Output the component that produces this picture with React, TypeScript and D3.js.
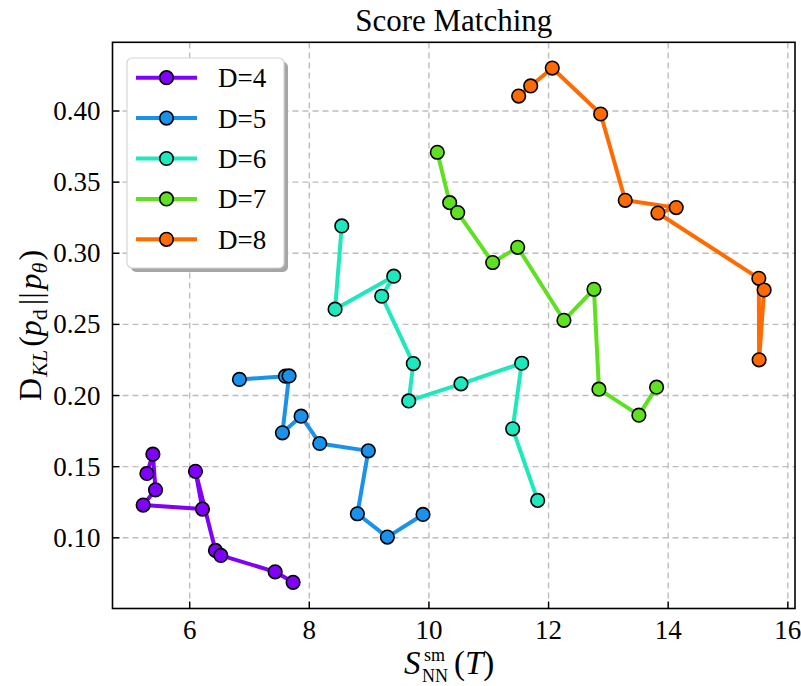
import React from 'react';
import * as d3 from 'd3';

// values
const seriesNames = ['D=4', 'D=5', 'D=6', 'D=7', 'D=8'];
const seriesColors = ['#8000fa', '#1a92ec', '#1ee8bd', '#5fe020', '#ff6b00'];

const d4x = [5.285, 5.385, 5.429, 5.223, 6.214, 6.097, 6.431, 6.521, 7.429, 7.729];
const d4y = [0.1452, 0.1588, 0.1337, 0.123, 0.1202, 0.1467, 0.0911, 0.0876, 0.0761, 0.0687];
const d5x = [6.832, 7.601, 7.662, 7.551, 7.863, 8.175, 8.987, 8.804, 9.305, 9.901];
const d5y = [0.2113, 0.2136, 0.2138, 0.1738, 0.1855, 0.1663, 0.1611, 0.1169, 0.1005, 0.1164];
const d6x = [8.543, 8.431, 9.412, 9.211, 9.739, 9.662, 10.536, 11.551, 11.4, 11.818];
const d6y = [0.3192, 0.2607, 0.2839, 0.2698, 0.2225, 0.1962, 0.2082, 0.2227, 0.1766, 0.1263];
const d7x = [10.14, 10.347, 10.481, 11.066, 11.484, 12.257, 12.759, 12.842, 13.51, 13.806];
const d7y = [0.371, 0.3356, 0.3286, 0.2935, 0.3042, 0.2529, 0.2747, 0.2045, 0.1862, 0.2059];
const d8x = [11.5, 11.701, 12.062, 12.871, 13.282, 14.134, 13.828, 15.515, 15.52, 15.604];
const d8y = [0.4105, 0.4176, 0.4302, 0.3979, 0.3372, 0.3321, 0.3283, 0.2824, 0.2251, 0.2742];

const xTicks = [6, 8, 10, 12, 14, 16];
const yTicks = [0.1, 0.15, 0.2, 0.25, 0.3, 0.35, 0.4];

const allX = [d4x, d5x, d6x, d7x, d8x];
const allY = [d4y, d5y, d6y, d7y, d8y];

const W = 801;
const H = 686;
const margin = { left: 112.5, right: 6, top: 42.3, bottom: 77.5 };
const font = '"Liberation Serif", "DejaVu Serif", serif';

export default function App() {
  const x = d3.scaleLinear().domain([4.71, 16.12]).range([margin.left, W - margin.right]);
  const y = d3.scaleLinear().domain([0.0503, 0.4483]).range([H - margin.bottom, margin.top]);
  const x0 = x.range()[0], x1 = x.range()[1];
  const y0 = y.range()[0], y1 = y.range()[1];

  const line = d3.line<[number, number]>()
    .x(d => x(d[0]))
    .y(d => y(d[1]));

  const series = seriesNames.map((name, i) => ({
    name,
    color: seriesColors[i],
    pts: allX[i].map((v, j) => [v, allY[i][j]] as [number, number]),
  }));

  const legX = 127, legY = 58, legW = 157, legH = 210;
  const cx = (x0 + x1) / 2;

  return (
    <svg width={W} height={H} style={{ position: 'absolute', left: 0, top: 0, background: '#fff' }}
      fontFamily={font}>
      <text x={cx} y={31} textAnchor="middle" fontSize={31}>Score Matching</text>

      {/* grid */}
      <g stroke="#bdbdbd" strokeWidth={1.4} strokeDasharray="6,4">
        {xTicks.map(t => <line key={'gx' + t} x1={x(t)} x2={x(t)} y1={y0} y2={y1} />)}
        {yTicks.map(t => <line key={'gy' + t} x1={x0} x2={x1} y1={y(t)} y2={y(t)} />)}
      </g>

      {/* series */}
      {series.map(s => (
        <g key={s.name}>
          <path d={line(s.pts) || ''} fill="none" stroke={s.color} strokeWidth={4} strokeLinejoin="round" />
          {s.pts.map((p, j) => (
            <circle key={j} cx={x(p[0])} cy={y(p[1])} r={6.8} fill={s.color} stroke="#000" strokeWidth={1.6} />
          ))}
        </g>
      ))}

      {/* frame and ticks */}
      <rect x={x0} y={y1} width={x1 - x0} height={y0 - y1} fill="none" stroke="#000" strokeWidth={1.6} />
      <g stroke="#000" strokeWidth={1.4}>
        {xTicks.map(t => <line key={'tx' + t} x1={x(t)} x2={x(t)} y1={y0} y2={y0 - 7} />)}
        {yTicks.map(t => <line key={'ty' + t} x1={x0} x2={x0 + 7} y1={y(t)} y2={y(t)} />)}
      </g>
      <g fontSize={27}>
        {xTicks.map(t => (
          <text key={'lx' + t} x={x(t)} y={y0 + 30} textAnchor="middle">{t}</text>
        ))}
        {yTicks.map(t => (
          <text key={'ly' + t} x={x0 - 12} y={y(t) + 9} textAnchor="end">{d3.format('.2f')(t)}</text>
        ))}
      </g>

      {/* x label */}
      <text x={404} y={674} fontSize={33} fontStyle="italic">S</text>
      <text x={424} y={661} fontSize={18}>sm</text>
      <text x={422} y={682} fontSize={18}>NN</text>
      <text x={454} y={674} fontSize={33}>(<tspan fontStyle="italic">T</tspan>)</text>

      {/* y label */}
      <text transform={`translate(41,${(y0 + y1) / 2}) rotate(-90)`} textAnchor="middle" fontSize={32}>
        <tspan>D</tspan>
        <tspan fontSize={22} fontStyle="italic" dx={1} dy={6}>KL</tspan>
        <tspan dx={3} dy={-6}>(</tspan>
        <tspan fontStyle="italic">p</tspan>
        <tspan fontSize={22} dy={6}>d</tspan>
        <tspan dx={4} dy={-6}>||</tspan>
        <tspan dx={3} fontStyle="italic">p</tspan>
        <tspan fontSize={22} fontStyle="italic" dy={6}>θ</tspan>
        <tspan dx={2} dy={-6}>)</tspan>
      </text>

      {/* legend */}
      <rect x={legX + 4} y={legY + 4} width={legW} height={legH} rx={5} fill="#a6a6a6" />
      <rect x={legX} y={legY} width={legW} height={legH} rx={5} fill="#fff" stroke="#d6d6d6" strokeWidth={1.2} />
      {series.map((s, i) => {
        const ry = 77.7 + i * 40.4;
        return (
          <g key={'leg' + s.name}>
            <line x1={136} x2={197} y1={ry} y2={ry} stroke={s.color} strokeWidth={4} />
            <circle cx={166.5} cy={ry} r={6.8} fill={s.color} stroke="#000" strokeWidth={1.6} />
            <text x={218} y={ry + 9.5} fontSize={27}>{s.name}</text>
          </g>
        );
      })}
    </svg>
  );
}
